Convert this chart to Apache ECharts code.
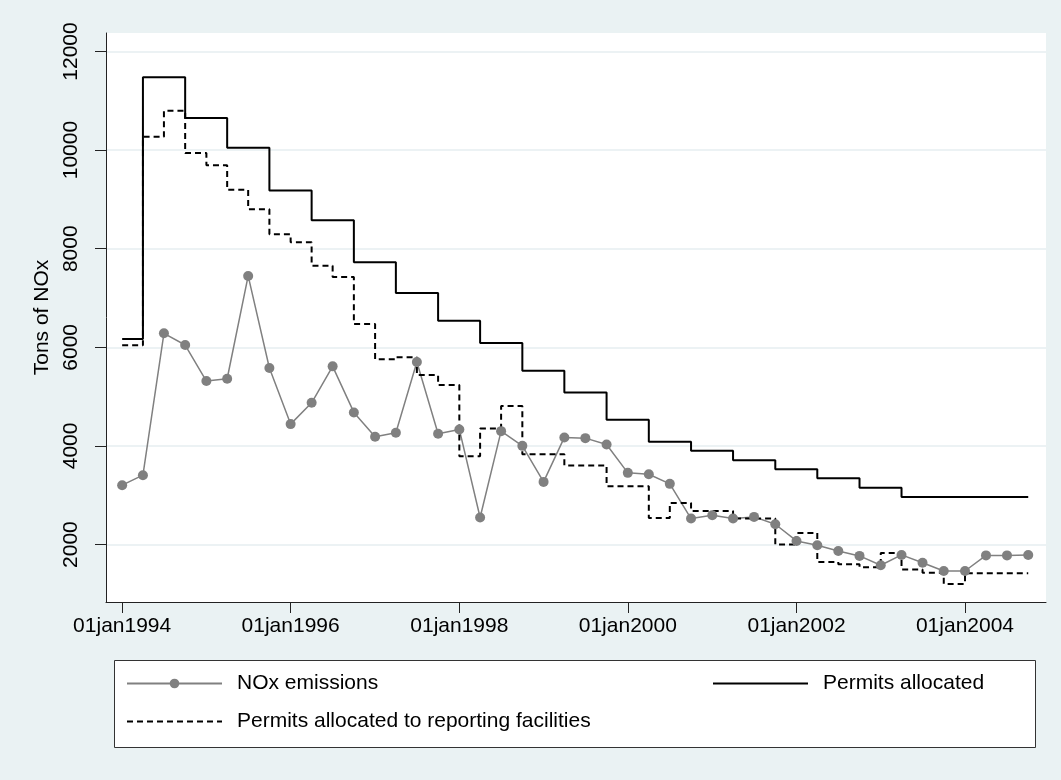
<!DOCTYPE html>
<html><head><meta charset="utf-8">
<script src="https://cdn.jsdelivr.net/npm/echarts@6/dist/echarts.min.js"></script>
<style>html,body{margin:0;padding:0;background:#eaf2f3}#c{width:1061px;height:780px}</style>
</head><body><div id="c"></div><script>
const quarters = [
  '1994q1','1994q2','1994q3','1994q4','1995q1','1995q2','1995q3','1995q4',
  '1996q1','1996q2','1996q3','1996q4','1997q1','1997q2','1997q3','1997q4',
  '1998q1','1998q2','1998q3','1998q4','1999q1','1999q2','1999q3','1999q4',
  '2000q1','2000q2','2000q3','2000q4','2001q1','2001q2','2001q3','2001q4',
  '2002q1','2002q2','2002q3','2002q4','2003q1','2003q2','2003q3','2003q4',
  '2004q1','2004q2','2004q3','2004q4'
];
const noxEmissions = [
  3204, 3407, 6284, 6047, 5316, 5363, 7448, 5580,
  4443, 4876, 5614, 4680, 4185, 4266, 5702, 4246,
  4335, 2548, 4300, 4002, 3271, 4173, 4158, 4030,
  3454, 3427, 3231, 2528, 2595, 2528, 2561, 2412,
  2073, 1986, 1870, 1770, 1580, 1790, 1630, 1464,
  1464, 1780, 1780, 1790
];
const permitsAllocated = [
  6170, 11480, 11480, 10650, 10650, 10047, 10047, 9180,
  9180, 8578, 8578, 7726, 7726, 7100, 7100, 6540,
  6540, 6087, 6087, 5525, 5525, 5086, 5086, 4530,
  4530, 4083, 4083, 3900, 3900, 3712, 3712, 3529,
  3529, 3346, 3346, 3150, 3150, 2967, 2967, 2967,
  2967, 2967, 2967, 2967
];
const permitsReporting = [
  6040, 10270, 10800, 9939, 9695, 9194, 8802, 8294,
  8132, 7657, 7427, 6473, 5756, 5800, 5438, 5234,
  3793, 4355, 4808, 3834, 3834, 3604, 3604, 3184,
  3184, 2540, 2845, 2682, 2682, 2528, 2528, 2000,
  2236, 1647, 1600, 1539, 1830, 1495, 1428, 1200,
  1420, 1420, 1420, 1420
];
const yTicks = [2000, 4000, 6000, 8000, 10000, 12000];
const xTickDates = ['1994-01-01','1996-01-01','1998-01-01','2000-01-01','2002-01-01','2004-01-01'];
const monthNames = ['jan','feb','mar','apr','may','jun','jul','aug','sep','oct','nov','dec'];

function qToTime(q) {
  const y = +q.slice(0, 4), n = +q.slice(5);
  return Date.UTC(y, (n - 1) * 3, 1);
}
function dateToTime(s) {
  const p = s.split('-').map(Number);
  return Date.UTC(p[0], p[1] - 1, p[2]);
}
function fmtDate(v) {
  const d = new Date(v);
  const dd = String(d.getUTCDate()).padStart(2, '0');
  return dd + monthNames[d.getUTCMonth()] + d.getUTCFullYear();
}

const FONT = 'Liberation Sans, Arial, Helvetica, sans-serif';
const xTicks = xTickDates.map(dateToTime);
const pts = arr => quarters.map((q, i) => [qToTime(q), arr[i]]);

const chart = echarts.init(document.getElementById('c'), null, {renderer: 'canvas'});
const legendBase = {
  padding: 0, itemWidth: 95, itemHeight: 12, itemGap: 0,
  selectedMode: false,
  textStyle: {fontSize: 21, color: '#000', fontFamily: FONT, padding: [0, 0, 0, 10]}
};
chart.setOption({
  animation: false,
  backgroundColor: '#eaf2f3',
  textStyle: {fontFamily: FONT},
  grid: {left: 106, right: 15, top: 33, bottom: 178, show: true, backgroundColor: '#ffffff', borderWidth: 0},
  graphic: [{
    type: 'rect', left: 114, top: 660, z: 0,
    shape: {width: 921, height: 87},
    style: {fill: '#ffffff', stroke: '#333333', lineWidth: 1}
  }],
  legend: [
    Object.assign({}, legendBase, {data: ['NOx emissions'], left: 126, top: 673}),
    Object.assign({}, legendBase, {data: [{name: 'Permits allocated', itemStyle: {opacity: 0}}], left: 712, top: 673}),
    Object.assign({}, legendBase, {data: [{name: 'Permits allocated to reporting facilities', itemStyle: {opacity: 0}}], left: 126, top: 711})
  ],
  xAxis: {
    type: 'value',
    min: Date.UTC(1993, 9, 23),
    max: Date.UTC(2004, 11, 17),
    axisLine: {show: true, lineStyle: {color: '#222', width: 1}},
    axisTick: {show: true, customValues: xTicks, length: 11, lineStyle: {color: '#222', width: 1}},
    axisLabel: {customValues: xTicks, formatter: fmtDate, fontSize: 21, color: '#000', margin: 14, fontFamily: FONT},
    splitLine: {show: false}
  },
  yAxis: {
    type: 'value',
    min: 835, max: 12375,
    name: 'Tons of NOx', nameLocation: 'middle', nameGap: 46,
    nameTextStyle: {fontSize: 21, color: '#000', fontFamily: FONT},
    axisLine: {show: true, lineStyle: {color: '#222', width: 1}},
    axisTick: {show: true, customValues: yTicks, length: 11, lineStyle: {color: '#222', width: 1}},
    axisLabel: {customValues: yTicks, rotate: 90, formatter: v => String(v), fontSize: 21, color: '#000', margin: 24, fontFamily: FONT},
    splitLine: {show: true, lineStyle: {color: '#e6eef1', width: 1.5}}
  },
  series: [
    {
      name: 'NOx emissions', type: 'line', data: pts(noxEmissions),
      symbol: 'circle', symbolSize: 10, showSymbol: true,
      itemStyle: {color: '#808080'},
      lineStyle: {color: '#808080', width: 1.5}
    },
    {
      name: 'Permits allocated', type: 'line', data: pts(permitsAllocated),
      step: 'end', symbol: 'none',
      itemStyle: {color: '#000'},
      lineStyle: {color: '#000', width: 2}
    },
    {
      name: 'Permits allocated to reporting facilities', type: 'line', data: pts(permitsReporting),
      step: 'end', symbol: 'none',
      itemStyle: {color: '#000'},
      lineStyle: {color: '#000', width: 2, type: [6, 4]}
    }
  ]
});
</script></body></html>
